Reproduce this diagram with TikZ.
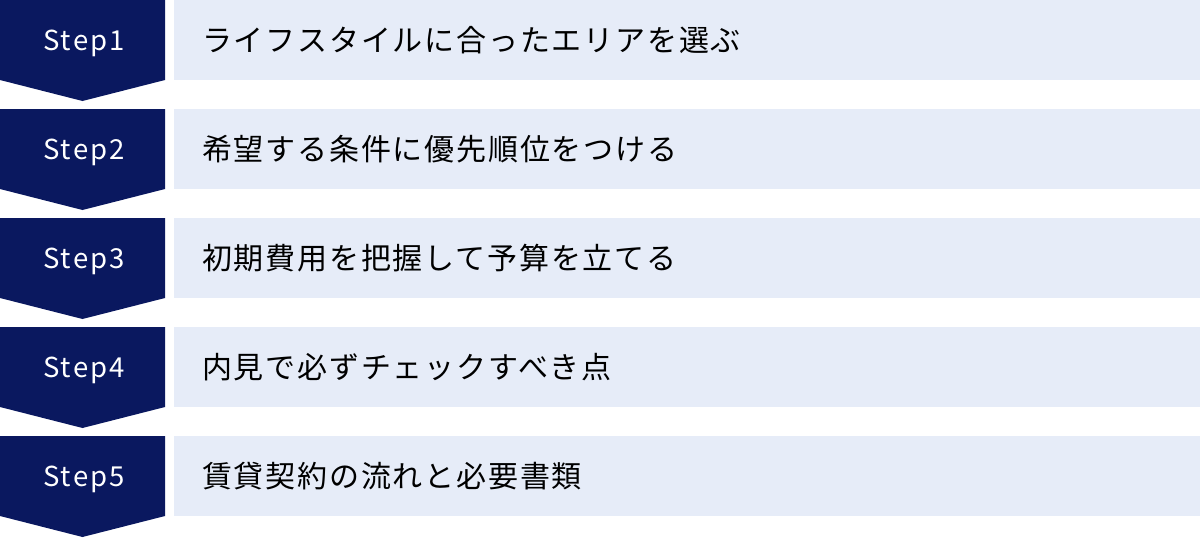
\documentclass[tikz,border=0pt]{standalone}
\usepackage{fontspec}
\setmainfont{Noto Sans CJK JP}
\newfontfamily\stepfont[LetterSpace=8]{Noto Sans CJK JP}
\newfontfamily\jpfont[LetterSpace=6]{Noto Sans CJK JP}
\definecolor{navy}{HTML}{0A185F}
\definecolor{lightbg}{HTML}{E6ECF8}
\tikzset{
  chevron/.style={fill=navy},
  panel/.style={fill=lightbg},
  steplabel/.style={anchor=base, inner sep=0pt, text=white, font=\stepfont\fontsize{27.5}{27.5}\selectfont},
  itemlabel/.style={anchor=base west, inner sep=0pt, text=black, font=\jpfont\fontsize{30}{30}\selectfont},
}
\begin{document}
\begin{tikzpicture}[x=1pt,y=-1pt]
\useasboundingbox (0,0) rectangle (1200,538);
\foreach \i/\t in {1/ライフスタイルに合ったエリアを選ぶ,2/希望する条件に優先順位をつける,3/初期費用を把握して予算を立てる,4/内見で必ずチェックすべき点,5/賃貸契約の流れと必要書類}{
  \pgfmathsetmacro{\yy}{(\i-1)*109}
  \path[chevron] (0,\yy) -- (165,\yy) -- (165,\yy+80) -- (82.5,\yy+101) -- (0,\yy+80) -- cycle;
  \path[panel] (174,\yy) rectangle (1200,\yy+80);
  \node[steplabel] (step\i) at (84,\yy+50) {Step\i};
  \node[itemlabel] (item\i) at (202,\yy+51) {\t};
}
\end{tikzpicture}
\end{document}
